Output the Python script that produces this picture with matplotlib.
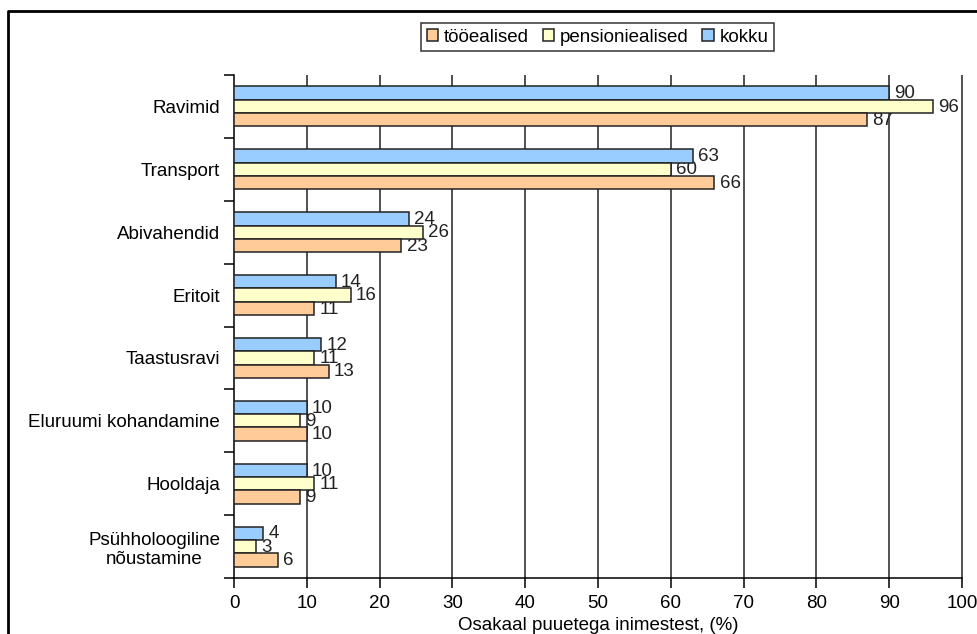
import numpy as np
import matplotlib.pyplot as plt
from matplotlib.lines import Line2D

plt.rcParams['font.family'] = ['Liberation Sans', 'DejaVu Sans']

kategooriad = ["Ravimid", "Transport", "Abivahendid", "Eritoit", "Taastusravi",
               "Eluruumi kohandamine", "Hooldaja", "Psühholoogiline\nnõustamine"]
kokku = [90, 63, 24, 14, 12, 10, 10, 4]
pension = [96, 60, 26, 16, 11, 9, 11, 3]
tooealised = [87, 66, 23, 11, 13, 10, 9, 6]

fs = 13.5
fig = plt.figure(figsize=(9.78, 6.34), dpi=100)
ax = fig.add_axes([0.2393, 0.0883, 0.7443, 0.7934])

keskel = np.arange(len(kategooriad)) + 0.5
h = 0.212
seeriad = [
    (kokku, -h, "#99CCFF", "kokku"),
    (pension, 0, "#FFFFCC", "pensioniealised"),
    (tooealised, h, "#FFCC99", "tööealised"),
]
ribad = {}
for vaartused, nihe, varv, nimi in seeriad:
    ribad[nimi] = ax.barh(keskel + nihe, vaartused, height=h, color=varv,
                          edgecolor="#222222", linewidth=1.1, zorder=3)
    for y, v in zip(keskel + nihe, vaartused):
        ax.text(v + 0.7, y + 0.01, str(v), va="center", ha="left",
                fontsize=fs, color="#222222", zorder=2)

ax.set_xlim(0, 100)
ax.set_ylim(len(kategooriad), 0)
ax.set_xticks(range(0, 101, 10))
# vertikaalsed jooned igal kümnel, ka 100 juures
ax.vlines(range(10, 101, 10), 0, len(kategooriad), color="#222222",
          linewidth=1.1, zorder=1, clip_on=False)
ax.set_yticks(np.arange(len(kategooriad) + 1))
ax.set_yticklabels([])
ax.set_yticks(keskel, minor=True)
ax.set_yticklabels(kategooriad, minor=True, multialignment="center")
ax.tick_params(axis="y", which="minor", length=0, pad=10, labelsize=fs)
ax.tick_params(axis="y", which="major", length=7, direction="out", width=1.1)
ax.tick_params(axis="x", length=7, direction="out", width=1.1, labelsize=fs, pad=5)
for s in ["top", "right"]:
    ax.spines[s].set_visible(False)
ax.spines["left"].set_linewidth(1.1)
ax.spines["bottom"].set_linewidth(1.1)
ax.set_xlabel("Osakaal puuetega inimestest, (%)", fontsize=fs, labelpad=4)

leg = fig.legend([ribad["tööealised"], ribad["pensioniealised"], ribad["kokku"]],
                 ["tööealised", "pensioniealised", "kokku"],
                 loc="center", bbox_to_anchor=(0.611, 0.9416), ncol=3,
                 fontsize=fs, frameon=True, fancybox=False, edgecolor="black",
                 handlelength=0.6, handleheight=0.6, handletextpad=0.3,
                 columnspacing=0.75, borderpad=0.3)
leg.get_frame().set_linewidth(1.1)

# raam ümber joonise (vasak ja ülemine serv)
fig.add_artist(Line2D([8 / 978, 8 / 978, 1], [0, 1 - 10.5 / 634, 1 - 10.5 / 634],
                      transform=fig.transFigure, color="black", linewidth=2))

fig.savefig("out.png", dpi=100)
